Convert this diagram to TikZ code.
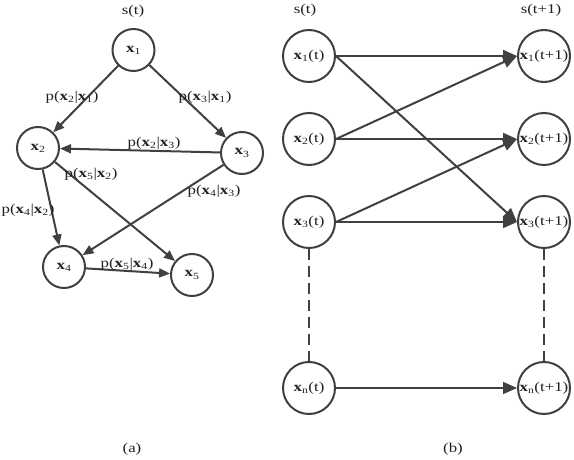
\documentclass[tikz,border=0pt]{standalone}
\usepackage{fontspec}
\setmainfont[FakeStretch=1.25]{Liberation Serif}
\usetikzlibrary{arrows.meta}
\definecolor{ink}{HTML}{404040}
\definecolor{txt}{HTML}{202020}
\newcommand{\bx}[1]{\textbf{x}\textsubscript{#1}}
\begin{document}
\begin{tikzpicture}[x=1pt,y=-1pt,
  every node/.style={font=\fontsize{13.5}{15}\selectfont, text=txt, inner sep=0pt},
  st/.style={circle, draw=ink, line width=2pt, minimum size=42pt},
  stb/.style={circle, draw=ink, line width=2pt, minimum size=52pt},
  arra/.style={draw=ink, line width=2pt, -{Triangle[length=11pt,width=9pt]}},
  arrb/.style={draw=ink, line width=2pt, -{Triangle[length=14pt,width=12pt]}},
  dashl/.style={draw=ink, dashed, dash pattern=on 11pt off 6pt}]
\useasboundingbox (0,0) rectangle (574,460);
% (a)
\node (sa) at (133,11) {s(t)};
\node[st] (a1) at (133.5,50) {\bx{1}};
\node[st] (a2) at (38,148) {\bx{2}};
\node[st] (a3) at (242,153) {\bx{3}};
\node[st] (a4) at (64,267) {\bx{4}};
\node[st] (a5) at (192,275) {\bx{5}};
\draw[arra] (a1) -- (a2);
\draw[arra] (a1) -- (a3);
\draw[arra] (a3) -- (a2);
\draw[arra] (a2) -- (a4);
\draw[arra] (a2) -- (a5);
\draw[arra] (a3) -- (a4);
\draw[arra] (a4) -- (a5);
\node (l21) at (72,97) {p(\bx{2}|\bx{1})};
\node (l31) at (205,97) {p(\bx{3}|\bx{1})};
\node (l23) at (154,143) {p(\bx{2}|\bx{3})};
\node (l52) at (91,174) {p(\bx{5}|\bx{2})};
\node (l43) at (214,191) {p(\bx{4}|\bx{3})};
\node (l42) at (28,210) {p(\bx{4}|\bx{2})};
\node (l54) at (127,264) {p(\bx{5}|\bx{4})};
\node (ca) at (132,449) {(a)};
% (b)
\node (sb1) at (305,10) {s(t)};
\node (sb2) at (541,10) {s(t+1)};
\node[stb] (b1) at (309,56) {\makebox[0pt]{\bx{1}(t)}};
\node[stb] (b2) at (309,139) {\makebox[0pt]{\bx{2}(t)}};
\node[stb] (b3) at (309,222) {\makebox[0pt]{\bx{3}(t)}};
\node[stb] (bn) at (309,388) {\makebox[0pt]{\bx{n}(t)}};
\node[stb] (c1) at (544,56) {\makebox[0pt]{\bx{1}(t+1)}};
\node[stb] (c2) at (544,139) {\makebox[0pt]{\bx{2}(t+1)}};
\node[stb] (c3) at (544,222) {\makebox[0pt]{\bx{3}(t+1)}};
\node[stb] (cn) at (544,388) {\makebox[0pt]{\bx{n}(t+1)}};
\draw[arrb] (b1.east) -- (c1.west);
\draw[arrb] (b1.east) -- (c3.west);
\draw[arrb] (b2.east) -- (c1.west);
\draw[arrb] (b2.east) -- (c2.west);
\draw[arrb] (b3.east) -- (c2.west);
\draw[arrb] (b3.east) -- (c3.west);
\draw[arrb, line width=1.5pt] (bn.east) -- (cn.west);
\draw[dashl, line width=2pt] (b3) -- (bn);
\draw[dashl, line width=1.3pt] (c3) -- (cn);
\node (cb) at (453,449) {(b)};
\end{tikzpicture}
\end{document}
